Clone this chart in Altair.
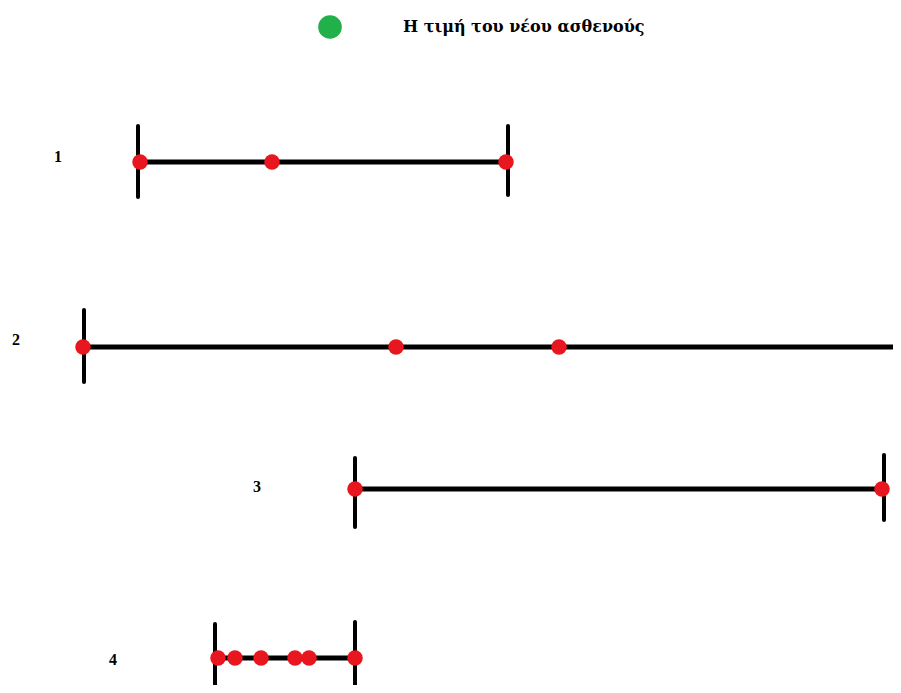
import altair as alt
import pandas as pd

# ---- data (pixel-like units along each line) ----
row_labels = ["1", "2", "3", "4"]
row_y = [162, 347, 489, 658]
label_x = [58, 16, 257, 113]
label_y = [157, 340, 487, 660]
seg_start = [140, 84, 355, 215]
seg_end = [507, 901, 882, 355]

tick_row = ["1", "1", "2", "3", "3", "4", "4"]
tick_x = [138, 508, 84, 355, 884, 215, 355]
tick_top = [126, 126, 310, 458, 455, 624, 622]
tick_bottom = [197, 195, 382, 527, 520, 693, 693]

point_row = ["1", "1", "1", "2", "2", "2", "2", "3", "3",
             "4", "4", "4", "4", "4", "4"]
point_x = [140, 272, 506, 83, 396, 559, 903, 355, 882,
           218, 235, 261, 295, 309, 355]

legend_label = ["Η τιμή του νέου ασθενούς"]
legend_dot_x = [330]
legend_text_x = [403]
legend_y = [27]

# ---- tables ----
segs = pd.DataFrame({"row": row_labels, "y": row_y, "x1": seg_start, "x2": seg_end})
labels = pd.DataFrame({"row": row_labels, "x": label_x, "y": label_y})
ticks = pd.DataFrame({"row": tick_row, "x": tick_x, "y1": tick_top, "y2": tick_bottom})
ymap = dict(zip(row_labels, row_y))
points = pd.DataFrame({"row": point_row, "x": point_x,
                       "y": [ymap[r] for r in point_row]})
legend = pd.DataFrame({"label": legend_label, "dx": legend_dot_x,
                       "tx": legend_text_x, "y": legend_y})

W, H = 885, 677
xs = alt.Scale(domain=[8, 8 + W], nice=False, zero=False)
ys = alt.Scale(domain=[8, 8 + H], nice=False, zero=False, reverse=True)
noax = None

seg_layer = alt.Chart(segs).mark_rule(color="black", strokeWidth=5).encode(
    x=alt.X("x1:Q", scale=xs, axis=noax), x2="x2:Q",
    y=alt.Y("y:Q", scale=ys, axis=noax))

tick_layer = alt.Chart(ticks).mark_rule(color="black", strokeWidth=4, strokeCap="round").encode(
    x=alt.X("x:Q", scale=xs, axis=noax),
    y=alt.Y("y1:Q", scale=ys, axis=noax), y2="y2:Q")

pt_layer = alt.Chart(points).mark_circle(color="#e8161e", opacity=1, size=240).encode(
    x=alt.X("x:Q", scale=xs, axis=noax),
    y=alt.Y("y:Q", scale=ys, axis=noax))

lab_layer = alt.Chart(labels).mark_text(
    font="Liberation Serif", fontWeight="bold", fontSize=16, color="black",
    align="center", baseline="middle").encode(
    x=alt.X("x:Q", scale=xs, axis=noax),
    y=alt.Y("y:Q", scale=ys, axis=noax), text="row:N")

leg_dot = alt.Chart(legend).mark_circle(color="#22b04b", opacity=1, size=560).encode(
    x=alt.X("dx:Q", scale=xs, axis=noax),
    y=alt.Y("y:Q", scale=ys, axis=noax))

leg_text = alt.Chart(legend).mark_text(
    font="DejaVu Serif", fontWeight="bold", fontSize=16, color="black",
    align="left", baseline="middle").encode(
    x=alt.X("tx:Q", scale=xs, axis=noax),
    y=alt.Y("y:Q", scale=ys, axis=noax), text="label:N")

chart = alt.layer(seg_layer, tick_layer, pt_layer, lab_layer, leg_dot, leg_text).properties(
    width=W, height=H, padding=0, autosize=alt.AutoSizeParams(type="none"),
    background="white"
).configure_view(stroke=None)

chart.save("out.html", embed_options={"renderer": "svg", "actions": False})
